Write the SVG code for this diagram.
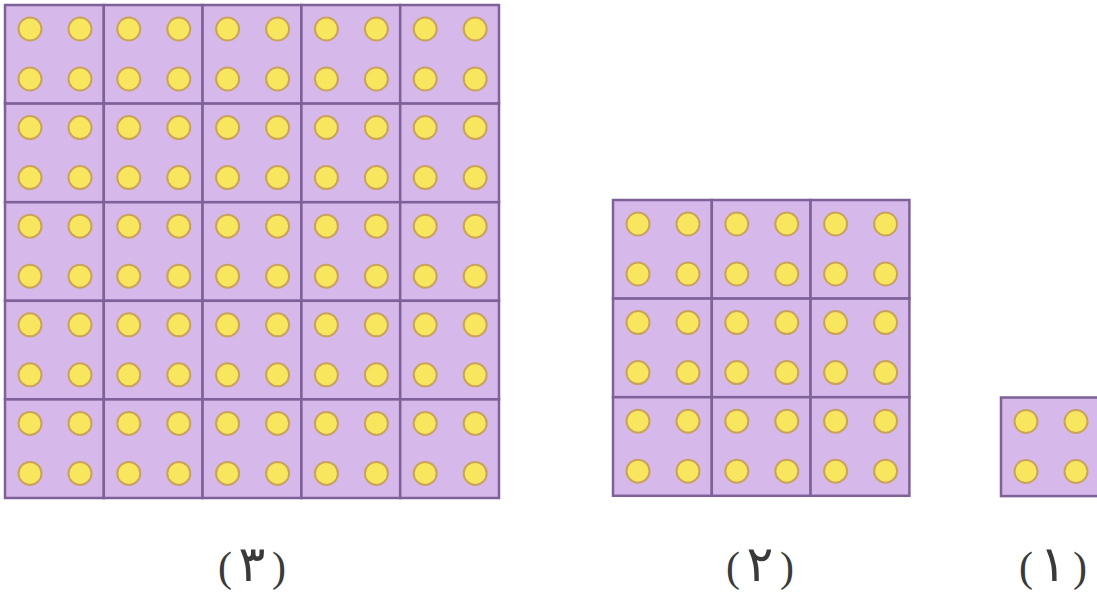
<svg xmlns="http://www.w3.org/2000/svg" xmlns:xlink="http://www.w3.org/1999/xlink" width="1097" height="593" viewBox="0 0 1097 593">
<style>
.cell{fill:#d6b8ea;stroke:#7e6199;stroke-width:2.5}
.dot{fill:#f8e65e;stroke:#c9a35c;stroke-width:2}
.lbl{font-family:"Liberation Serif","DejaVu Sans",serif;font-size:42px;fill:#3a3a3a;text-anchor:middle;word-spacing:-4px}
.dig{font-family:"DejaVu Sans",sans-serif;font-size:50px}
</style>
<defs>
<g id="c">
<rect class="cell" x="0" y="0" width="98.8" height="98.6"/>
<circle class="dot" cx="25" cy="24" r="11.5"/>
<circle class="dot" cx="75" cy="24" r="11.5"/>
<circle class="dot" cx="25" cy="74" r="11.5"/>
<circle class="dot" cx="75" cy="74" r="11.5"/>
</g>
</defs>
<rect width="1097" height="593" fill="#ffffff"/>
<g id="fig3">
<use xlink:href="#c" x="5" y="5"/><use xlink:href="#c" x="103.8" y="5"/><use xlink:href="#c" x="202.6" y="5"/><use xlink:href="#c" x="301.4" y="5"/><use xlink:href="#c" x="400.2" y="5"/>
<use xlink:href="#c" x="5" y="103.6"/><use xlink:href="#c" x="103.8" y="103.6"/><use xlink:href="#c" x="202.6" y="103.6"/><use xlink:href="#c" x="301.4" y="103.6"/><use xlink:href="#c" x="400.2" y="103.6"/>
<use xlink:href="#c" x="5" y="202.2"/><use xlink:href="#c" x="103.8" y="202.2"/><use xlink:href="#c" x="202.6" y="202.2"/><use xlink:href="#c" x="301.4" y="202.2"/><use xlink:href="#c" x="400.2" y="202.2"/>
<use xlink:href="#c" x="5" y="300.8"/><use xlink:href="#c" x="103.8" y="300.8"/><use xlink:href="#c" x="202.6" y="300.8"/><use xlink:href="#c" x="301.4" y="300.8"/><use xlink:href="#c" x="400.2" y="300.8"/>
<use xlink:href="#c" x="5" y="399.4"/><use xlink:href="#c" x="103.8" y="399.4"/><use xlink:href="#c" x="202.6" y="399.4"/><use xlink:href="#c" x="301.4" y="399.4"/><use xlink:href="#c" x="400.2" y="399.4"/>
<text class="lbl" x="252" y="581">( <tspan class="dig">٣</tspan> )</text>
</g>
<g id="fig2">
<use xlink:href="#c" x="613" y="200"/><use xlink:href="#c" x="711.8" y="200"/><use xlink:href="#c" x="810.6" y="200"/>
<use xlink:href="#c" x="613" y="298.6"/><use xlink:href="#c" x="711.8" y="298.6"/><use xlink:href="#c" x="810.6" y="298.6"/>
<use xlink:href="#c" x="613" y="397.2"/><use xlink:href="#c" x="711.8" y="397.2"/><use xlink:href="#c" x="810.6" y="397.2"/>
<text class="lbl" x="760" y="581">( <tspan class="dig">٢</tspan> )</text>
</g>
<g id="fig1">
<use xlink:href="#c" x="1001" y="397.5"/>
<text class="lbl" x="1053" y="581">( <tspan class="dig">١</tspan> )</text>
</g>
</svg>
